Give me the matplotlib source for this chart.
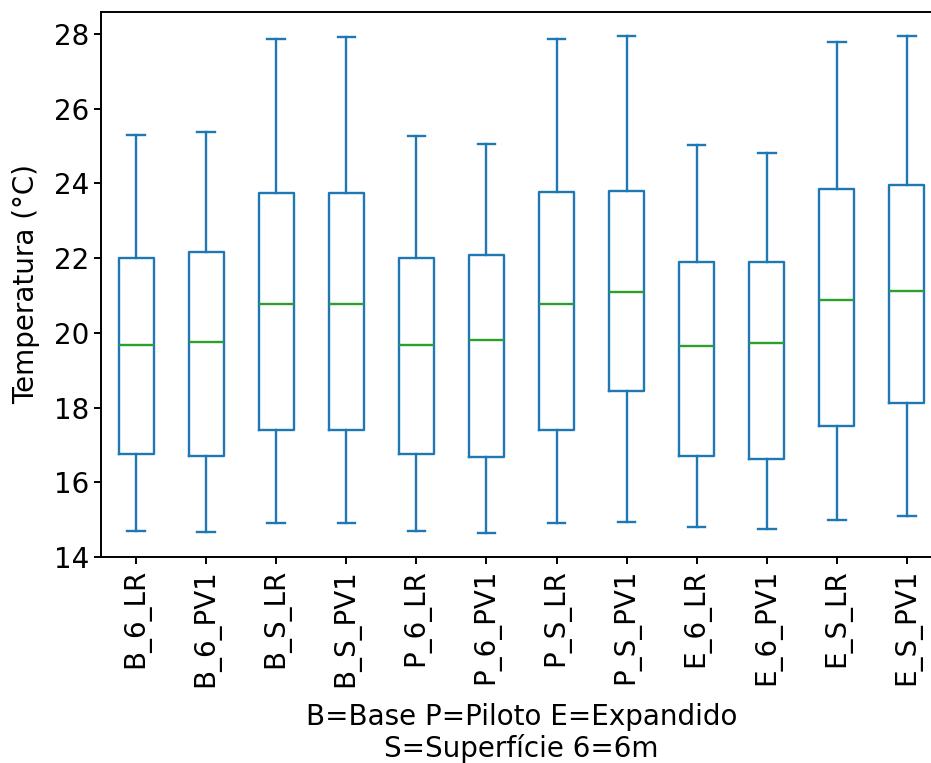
import matplotlib
matplotlib.use("Agg")
import matplotlib.pyplot as plt

# Temperatura por cenário (°C)
cenarios = ['B_6_LR', 'B_6_PV1', 'B_S_LR', 'B_S_PV1',
            'P_6_LR', 'P_6_PV1', 'P_S_LR', 'P_S_PV1',
            'E_6_LR', 'E_6_PV1', 'E_S_LR', 'E_S_PV1']
minimo  = [14.70, 14.66, 14.92, 14.92, 14.70, 14.65, 14.92, 14.93, 14.80, 14.75, 14.99, 15.10]
q1      = [16.76, 16.71, 17.41, 17.41, 16.75, 16.68, 17.40, 18.44, 16.71, 16.62, 17.51, 18.13]
mediana = [19.67, 19.75, 20.76, 20.76, 19.67, 19.80, 20.76, 21.09, 19.65, 19.72, 20.88, 21.12]
q3      = [22.01, 22.16, 23.75, 23.75, 22.01, 22.09, 23.76, 23.80, 21.89, 21.90, 23.85, 23.95]
maximo  = [25.30, 25.37, 27.87, 27.92, 25.28, 25.05, 27.87, 27.94, 25.04, 24.80, 27.78, 27.95]

stats = []
for i in range(len(cenarios)):
    stats.append({'label': cenarios[i], 'whislo': minimo[i], 'q1': q1[i],
                  'med': mediana[i], 'q3': q3[i], 'whishi': maximo[i], 'fliers': []})

fs = 20
fig = plt.figure(figsize=(9.31, 7.63), dpi=100)
ax = fig.add_axes([101/931, (763-557)/763, (942-101)/931, (557-11.5)/763])

lw = 1.7
ax.bxp(stats, widths=0.5, showfliers=False,
       boxprops=dict(color='#1f77b4', linewidth=lw),
       whiskerprops=dict(color='#1f77b4', linewidth=lw),
       capprops=dict(color='#1f77b4', linewidth=lw),
       medianprops=dict(color='#2ca02c', linewidth=lw))

ax.set_xlim(0.5, len(cenarios) + 0.5)
ax.set_ylim(14, 28.6)
ax.set_yticks([14, 16, 18, 20, 22, 24, 26, 28])
ax.tick_params(axis='both', labelsize=fs, length=5, width=1.4)
ax.tick_params(axis='x', labelrotation=90)
for s in ax.spines.values():
    s.set_linewidth(1.4)

ax.set_ylabel("Temperatura (°C)", fontsize=fs, labelpad=10)
ax.set_xlabel("B=Base P=Piloto E=Expandido\nS=Superfície 6=6m", fontsize=fs,
              labelpad=12, linespacing=1.1)

plt.savefig("out.png", dpi=100)
